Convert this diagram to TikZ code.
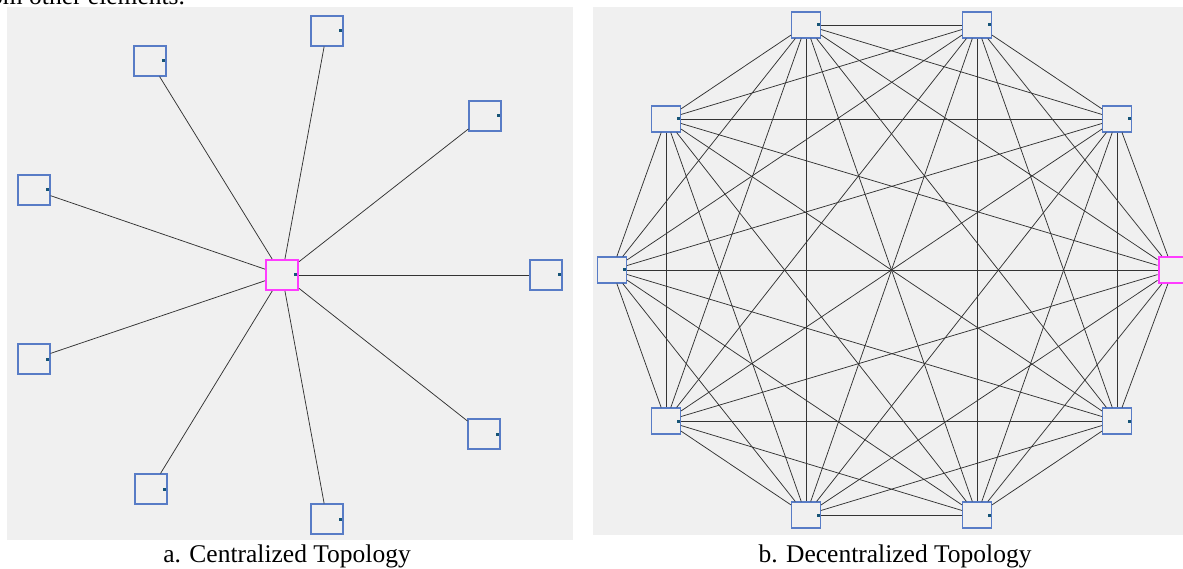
\documentclass[tikz,border=0pt]{standalone}
\usepackage{fontspec}
\setmainfont{Liberation Serif}
\definecolor{panelbg}{RGB}{240,240,240}
\definecolor{boxblue}{RGB}{88,124,198}
\definecolor{dotc}{RGB}{22,84,118}
\definecolor{hubpink}{RGB}{255,60,255}
\tikzset{
  panel/.style={fill=panelbg,draw=none},
  devbox/.style={rectangle,draw=boxblue,line width=1.1pt,fill=panelbg,inner sep=0pt,
    minimum width=32pt,minimum height=30pt,
    path picture={\fill[dotc] ([xshift=-3.8pt,yshift=-1.5pt]path picture bounding box.east) rectangle ++(3pt,3pt);}},
  smallbox/.style={devbox,minimum width=29pt,minimum height=26pt},
  hubbox/.style={draw=hubpink,line width=2pt},
  link/.style={draw=black!80,line width=0.75pt},
  caption/.style={font=\fontsize{25.5}{30}\selectfont,anchor=base,inner sep=0pt}
}
\begin{document}
\begin{tikzpicture}[x=1pt,y=-1pt]
\useasboundingbox (0,0) rectangle (1183,569);
\begin{scope}
\clip (0,0) rectangle (1183,569);
\node[caption,anchor=base west] (toptext) at (-10,5) {om other elements.};
\fill[panel] (7,7) rectangle (573,540);
\fill[panel] (593,7) rectangle (1190,535);
% centralized
\node[devbox,hubbox] (hub) at (282,275) {};
\node[devbox] (a1) at (150,61) {};
\node[devbox] (a2) at (327,31) {};
\node[devbox] (a3) at (485,116) {};
\node[devbox] (a4) at (34,190) {};
\node[devbox] (a5) at (546,275) {};
\node[devbox] (a6) at (34,359) {};
\node[devbox] (a7) at (484,434) {};
\node[devbox] (a8) at (151,489) {};
\node[devbox] (a9) at (327,519) {};
\foreach \i in {1,...,9} \draw[link] (hub) -- (a\i);
% decentralized
\node[smallbox,hubbox] (r1) at (1173,270) {};
\node[smallbox] (r2) at (1117,119) {};
\node[smallbox] (r3) at (977,25) {};
\node[smallbox] (r4) at (806,25) {};
\node[smallbox] (r5) at (666,119) {};
\node[smallbox] (r6) at (612,270) {};
\node[smallbox] (r7) at (666,421) {};
\node[smallbox] (r8) at (806,515) {};
\node[smallbox] (r9) at (977,515) {};
\node[smallbox] (r10) at (1117,421) {};
\foreach \i [evaluate=\i as \k using int(\i+1)] in {1,...,9}
  \foreach \j in {\k,...,10}
    \draw[link] (r\i) -- (r\j);
\node[caption] (capa) at (287,562) {a. Centralized Topology};
\node[caption] (capb) at (895,562) {b. Decentralized Topology};
\end{scope}
\end{tikzpicture}
\end{document}
